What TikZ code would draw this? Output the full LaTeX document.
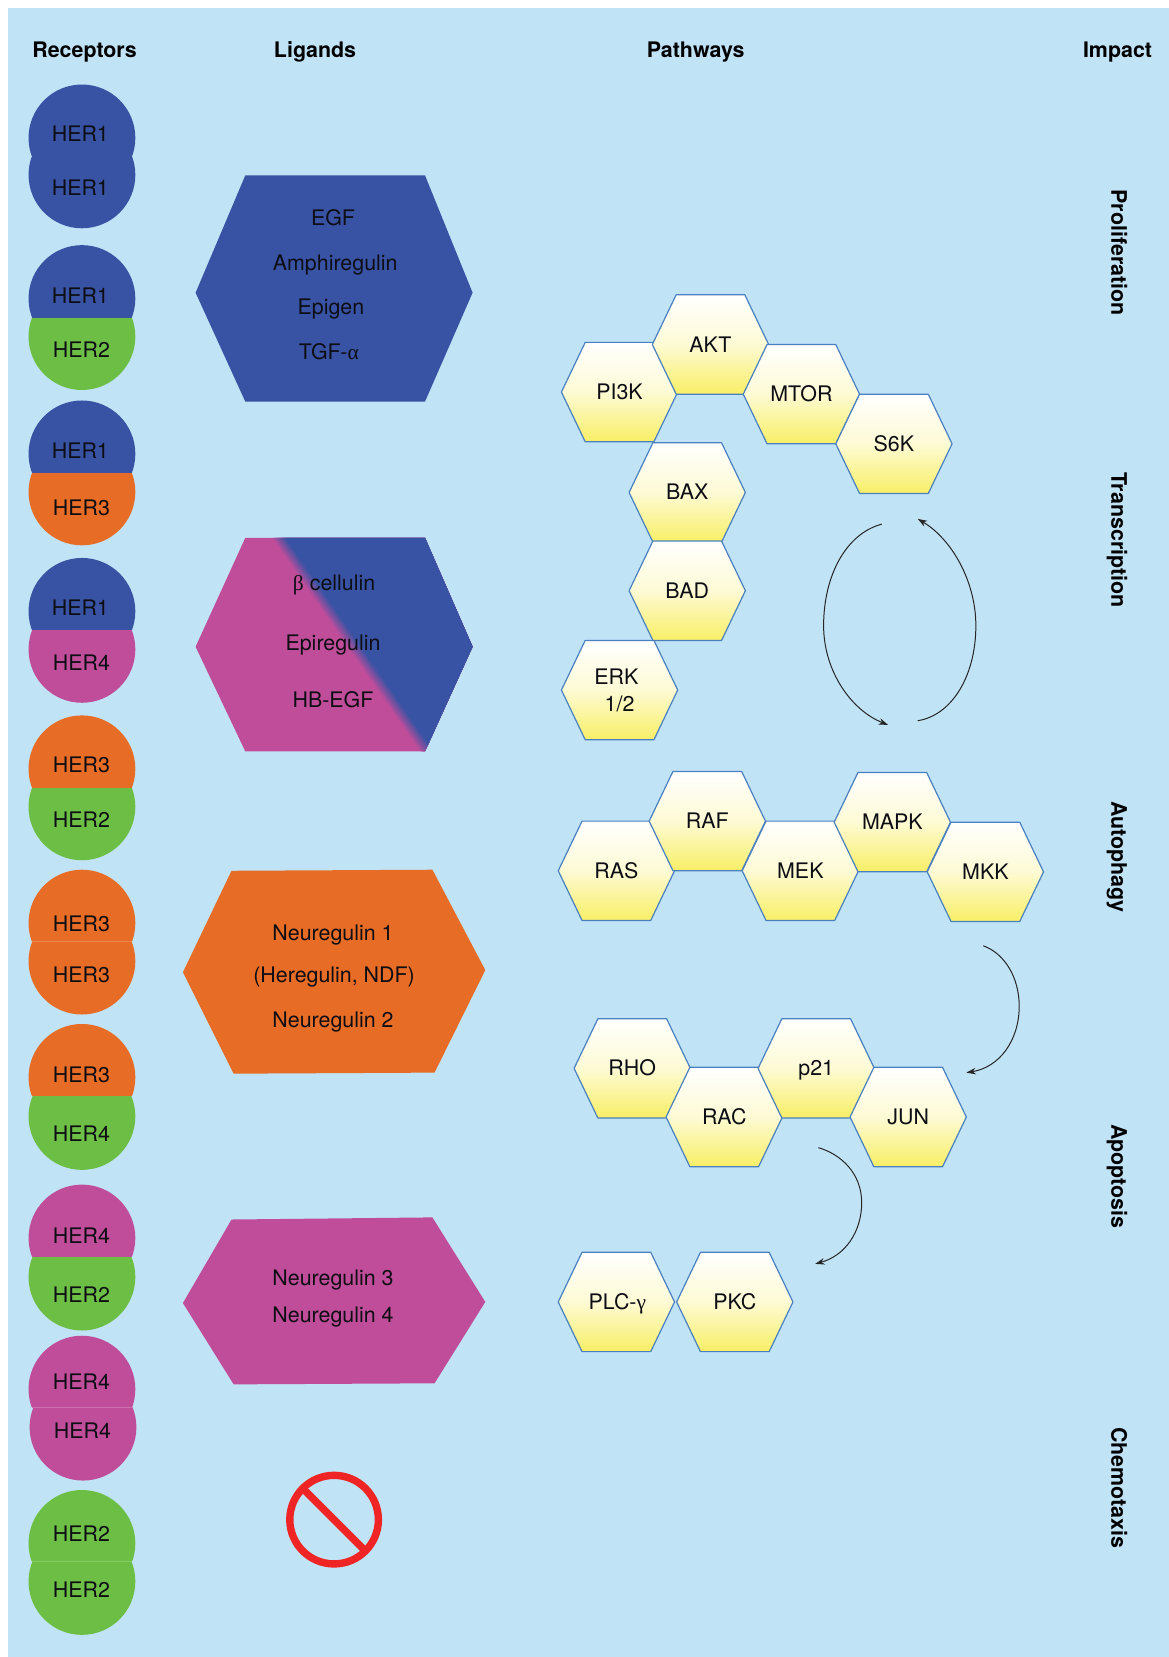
\documentclass[tikz,border=0pt]{standalone}
\usepackage{fontspec}
\setmainfont{TeX Gyre Heros}
\newfontfamily\greekf{Liberation Serif}
\usetikzlibrary{arrows.meta}
\definecolor{bgc}{HTML}{C1E3F6}
\definecolor{bluec}{HTML}{3953A4}
\definecolor{greenc}{HTML}{6CBE45}
\definecolor{orangec}{HTML}{E76C25}
\definecolor{magc}{HTML}{C04D9A}
\definecolor{redc}{HTML}{EE2524}
\definecolor{yelc}{HTML}{F8EF66}
\definecolor{hexline}{HTML}{4A80C0}
\definecolor{inkc}{HTML}{0D0D14}
\tikzset{
  lab/.style={font=\fontsize{21.4}{25}\selectfont,text=inkc,inner sep=0pt,text height=15.6pt,text depth=0pt,yshift=-0.8pt},
  head/.style={font=\fontsize{21.4}{25}\selectfont\bfseries,text=black,inner sep=0pt,text height=15.6pt,text depth=0pt},
  imp/.style={head,rotate=-90},
  pathhex/.style={draw=hexline,line width=1.2pt,top color=white,bottom color=yelc,middle color=white!72!yelc,line join=round},
  conn/.style={line width=1pt,draw=black!85,-{Stealth[length=9.5pt,width=6.5pt]}}
}
\newcommand{\recpair}[6]{%
  \begin{scope}
    \clip (0,{#2}) rectangle (200,{#2+120});
    \fill[#5] ({77.5+#6},{#3-50.5}) circle[radius=53.4pt];
  \end{scope}
  \begin{scope}
    \clip (0,{#2}) rectangle (200,{#2-120});
    \fill[#4] (77.5,{#1+50.5}) circle[radius=53.4pt];
  \end{scope}}
\newcommand{\hexa}[4]{%
  \begin{scope}[shift={(#2,#3)}]
    \path[pathhex] (-55,0) -- (-32.5,-47) -- (32.5,-47) -- (55,0) -- (32.5,47) -- (-32.5,47) -- cycle;
    \node[lab] (#1) at (0,-1) {#4};
  \end{scope}}
\begin{document}
\begin{tikzpicture}[x=1.0573pt,y=-1.0568pt]
\useasboundingbox (0,0) rectangle (1105.64,1568);
\fill[bgc] (8,8) rectangle (1105.64,1568);
% headers
\node[head] (hr) at (80,47) {Receptors};
\node[head] (hl) at (298,47) {Ligands};
\node[head] (hp) at (658,47) {Pathways};
\node[head] (hi) at (1057,47) {Impact};
% receptors
\recpair{80}{149}{216}{bluec}{bluec}{0}
\recpair{232}{300}{369}{bluec}{greenc}{0}
\recpair{379}{447}{516}{bluec}{orangec}{0}
\recpair{528}{596}{665}{bluec}{magc}{0}
\recpair{677}{745}{814}{orangec}{greenc}{0}
\recpair{823}{891}{960}{orangec}{orangec}{0}
\recpair{969}{1037}{1107}{orangec}{greenc}{0}
\recpair{1121}{1189}{1259}{magc}{greenc}{0}
\recpair{1264}{1332}{1401}{magc}{magc}{1}
\recpair{1410}{1477}{1547}{greenc}{greenc}{0}
\draw[orangec!80!white,line width=.6pt] (30.5,891) -- (124.5,891);
\draw[magc!80!white,line width=.6pt] (30.5,1332) -- (124.5,1332);
\draw[greenc!80!white,line width=.6pt] (30.5,1477) -- (124.5,1477);
\node[lab] (r1a) at (76,126) {HER1};
\node[lab] (r1b) at (76,177) {HER1};
\node[lab] (r2a) at (76,279) {HER1};
\node[lab] (r2b) at (77,330) {HER2};
\node[lab] (r3a) at (76,426) {HER1};
\node[lab] (r3b) at (77,480) {HER3};
\node[lab] (r4a) at (76,574) {HER1};
\node[lab] (r4b) at (77,626) {HER4};
\node[lab] (r5a) at (77,723) {HER3};
\node[lab] (r5b) at (77,775) {HER2};
\node[lab] (r6a) at (77,873) {HER3};
\node[lab] (r6b) at (77,922) {HER3};
\node[lab] (r7a) at (77,1016) {HER3};
\node[lab] (r7b) at (77,1072) {HER4};
\node[lab] (r8a) at (77,1169) {HER4};
\node[lab] (r8b) at (77,1224) {HER2};
\node[lab] (r9a) at (77,1307) {HER4};
\node[lab] (r9b) at (78,1353) {HER4};
\node[lab] (r10a) at (77,1451) {HER2};
\node[lab] (r10b) at (77,1504) {HER2};
% ligands
\fill[bluec] (232,166) -- (402,166) -- (447,277) -- (402,380) -- (232,380) -- (185,277) -- cycle;
\node[lab] (l1) at (315,205) {EGF};
\node[lab] (l2) at (317,248) {Amphiregulin};
\node[lab] (l3) at (313,289) {Epigen};
\node[lab] (l4) at (311,332) {TGF-{\greekf α}};
\begin{scope}
  \clip (232,509) -- (402,509) -- (447,612) -- (402,711) -- (232,711) -- (185,612) -- cycle;
  \fill[magc] (180,500) rectangle (450,720);
  \foreach \i/\m in {0/15,2/30,4/45,6/60,8/75,10/90,12/100}{
    \fill[bluec!\m!magc] ({258+\i},509) -- (450,509) -- (450,711) -- ({398+\i},711) -- cycle;
  }
\end{scope}
\node[lab] (l5) at (316,551) {{\greekf β} cellulin};
\node[lab] (l6) at (315,607) {Epiregulin};
\node[lab] (l7) at (315,661) {HB-EGF};
\fill[orangec] (219,824) -- (409,823) -- (459,918) -- (411,1015) -- (221,1016) -- (173,920) -- cycle;
\node[lab] (l8) at (315,882) {Neuregulin 1};
\node[lab] (l9) at (316,922) {(Heregulin, NDF)};
\node[lab] (l10) at (315,964) {Neuregulin 2};
\fill[magc] (219,1154) -- (409,1152) -- (459,1232) -- (411,1309) -- (221,1310) -- (173,1233) -- cycle;
\node[lab] (l11) at (315,1208) {Neuregulin 3};
\node[lab] (l12) at (315,1243) {Neuregulin 4};
% no symbol
\draw[redc,line width=7.4pt] (316,1438) circle[radius=44.3pt];
\draw[redc,line width=7.4pt] (288,1410) -- (344,1466);
% pathways
\hexa{pi3k}{586}{371}{PI3K}
\hexa{akt}{672}{326}{AKT}
\hexa{mtor}{758}{373}{MTOR}
\hexa{s6k}{845.5}{420}{S6K}
\hexa{bax}{650}{466}{BAX}
\hexa{bad}{650}{559}{BAD}
\hexa{erk}{586}{653}{}
\node[lab] (erka) at (583,640) {ERK};
\node[lab] (erkb) at (586,665) {1/2};
\hexa{ras}{583}{824}{RAS}
\hexa{raf}{669}{777}{RAF}
\hexa{mek}{757}{824}{MEK}
\hexa{mapk}{844}{778}{MAPK}
\hexa{mkk}{932}{825}{MKK}
\hexa{rho}{598}{1011}{RHO}
\hexa{rac}{685}{1057}{RAC}
\hexa{p21}{772}{1011}{p21}
\hexa{jun}{859}{1057}{JUN}
\hexa{plc}{583}{1232}{\hspace*{2pt}PLC-{\greekf γ}}
\hexa{pkc}{695}{1232}{PKC}
% arrows
\coordinate (a1s) at (834,496);
\coordinate (a1m) at (779,592);
\coordinate (a1e) at (840,686);
\coordinate (a2s) at (868,682);
\coordinate (a2m) at (923,592);
\coordinate (a2e) at (868,491);
\coordinate (a3s) at (930,895);
\coordinate (a3m) at (964,952);
\coordinate (a3e) at (914,1015);
\coordinate (a4s) at (774,1086);
\coordinate (a4m) at (815,1138);
\coordinate (a4e) at (771,1196);
\draw[conn] (a1s) .. controls (800,505) and (779,545) .. (a1m) .. controls (779,635) and (805,672) .. (a1e);
\draw[conn] (a2s) .. controls (900,677) and (923,640) .. (a2m) .. controls (923,550) and (900,510) .. (a2e);
\draw[conn] (a3s) .. controls (950,902) and (964,925) .. (a3m) .. controls (964,985) and (945,1010) .. (a3e);
\draw[conn] (a4s) .. controls (795,1092) and (815,1110) .. (a4m) .. controls (815,1165) and (800,1188) .. (a4e);
% impact
\node[imp] (i1) at (1058.5,239) {Proliferation};
\node[imp] (i2) at (1058.5,511) {Transcription};
\node[imp] (i3) at (1058.5,811) {Autophagy};
\node[imp] (i4) at (1058.5,1113) {Apoptosis};
\node[imp] (i5) at (1058.5,1408) {Chemotaxis};
\end{tikzpicture}
\end{document}
